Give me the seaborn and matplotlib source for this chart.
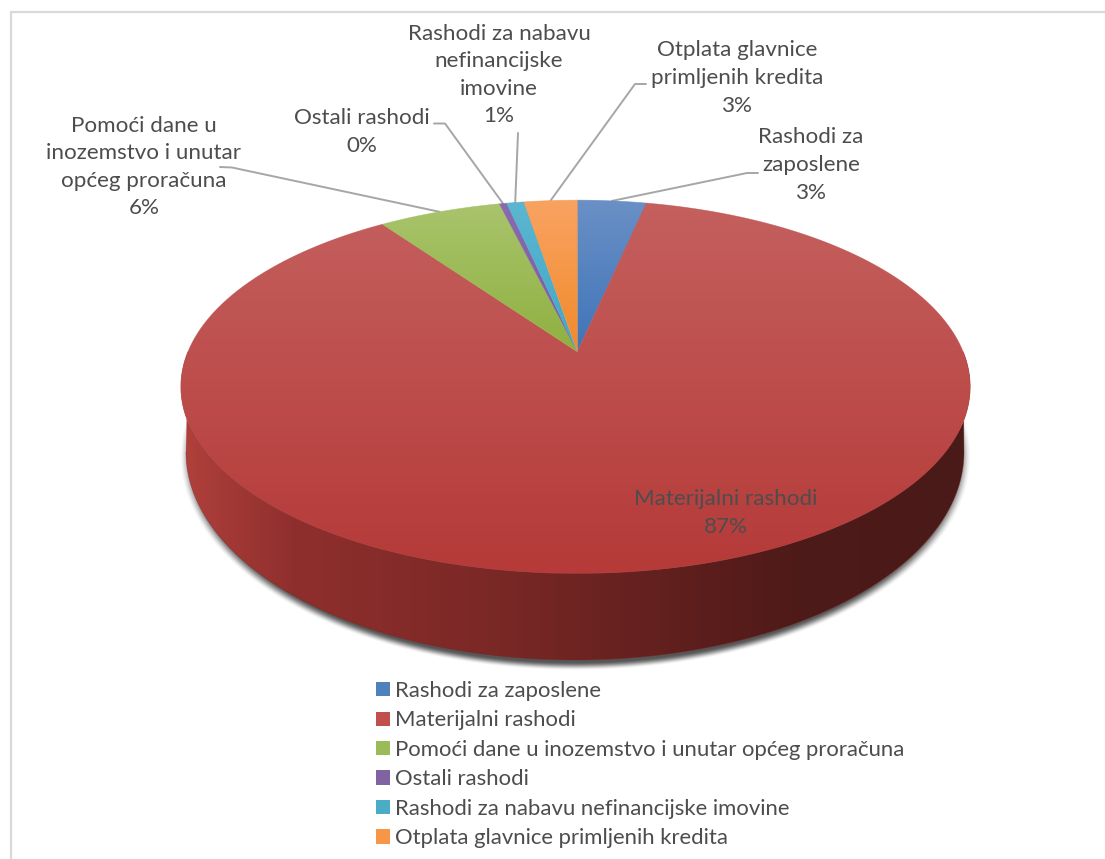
import numpy as np
import matplotlib
matplotlib.use("Agg")
import matplotlib.pyplot as plt
import seaborn as sns
from matplotlib.colors import LinearSegmentedColormap, to_rgb
from matplotlib.patches import Patch, Polygon

# Values
categories = ['Rashodi za zaposlene', 'Materijalni rashodi',
              'Pomoći dane u inozemstvo i unutar općeg proračuna', 'Ostali rashodi',
              'Rashodi za nabavu nefinancijske imovine', 'Otplata glavnice primljenih kredita']
values = [3.4, 86.8, 6.0, 0.35, 0.85, 2.6]
label_lines = ['Rashodi za\nzaposlene', 'Materijalni rashodi',
               'Pomoći dane u\ninozemstvo i unutar\nopćeg proračuna', 'Ostali rashodi',
               'Rashodi za nabavu\nnefinancijske\nimovine', 'Otplata glavnice\nprimljenih kredita']

# Layout in pixels of the 1105x859 picture
label_pos = [(811, 165), (726, 513), (144, 167), (362, 132), (499, 75), (737, 78)]
leader_elbows = [[(758, 173), (747, 173)], None, [(220, 167), (232, 167.5)],
                 [(434, 123.5), (445, 123.5)], [(518, 133)], [(646, 84), (635, 84)]]

top_colors = ['#6A90C6', '#C4605E', '#A9C46C', '#8A6BB0', '#5CB6D0', '#F9A362']
low_colors = ['#3F74B8', '#B53A38', '#8FB040', '#7A5A9E', '#3FA8C8', '#F08A2A']
legend_colors = ['#4F81BD', '#C0504D', '#9BBB59', '#8064A2', '#4BACC6', '#F79646']

sns.set_theme(style='white')
plt.rcParams['font.family'] = ['Lato', 'DejaVu Sans']
text_color = '#4D4D4D'
line_color = '#A6A6A6'

fig = plt.figure(figsize=(11.05, 8.59), dpi=100)
ax = fig.add_axes([0, 0, 1, 1])

wedges, _ = ax.pie(values, startangle=90, counterclock=False)
angles = [(w.theta1, w.theta2) for w in wedges]
for w in wedges:
    w.remove()

# Perspective tilt of the pie disc
apex_x, apex_y = 577.3, 351.7
sx_left, sx_right, sy, tilt = 389.3, 385.8, 180.0, 0.188


def project(theta_deg):
    t = np.radians(theta_deg)
    x, y = np.cos(t), np.sin(t)
    w = 1 + tilt * y
    return apex_x + np.where(x < 0, sx_left, sx_right) * x / w, apex_y - sy * y / w


def gradient_fill(poly_xy, cmap, horizontal=False, zorder=2):
    poly = Polygon(poly_xy, closed=True, fc='none', ec='none', transform=ax.transData)
    ax.add_patch(poly)
    extent = (poly_xy[:, 0].min(), poly_xy[:, 0].max(), poly_xy[:, 1].max(), poly_xy[:, 1].min())
    ramp = np.linspace(0, 1, 256)
    ramp = ramp[None, :] if horizontal else ramp[:, None]
    im = ax.imshow(ramp, cmap=cmap, extent=extent, origin='upper', aspect='auto',
                   vmin=0, vmax=1, zorder=zorder, interpolation='bilinear')
    im.set_clip_path(poly)


# Soft shadow under the disc
yy, xx = np.mgrid[400:700, 150:1000]
dist = np.sqrt(((xx - 575) / 396.0) ** 2 + ((yy - 456) / 214.0) ** 2)
fade = np.clip((1.0 - dist) / 0.04, 0, 1)
shadow = np.zeros(dist.shape + (4,))
shadow[..., :3] = 0.22
shadow[..., 3] = 0.85 * fade * fade * (3 - 2 * fade)
ax.imshow(shadow, extent=(150, 1000, 700, 400), origin='upper', aspect='auto', zorder=1)

# Side wall, only the front part of the big red slice shows
rim_t = np.radians(np.linspace(180, 360, 300))
rim_x, rim_y = project(np.degrees(rim_t))
low_x = 575 + 389 * np.cos(rim_t)
low_y = 452 - 208 * np.sin(rim_t)
side_xy = np.column_stack([np.r_[rim_x, low_x[::-1]], np.r_[rim_y, low_y[::-1]]])
side_cmap = LinearSegmentedColormap.from_list('side', [
    (0.0, '#B0403C'), (0.14, '#8F2F2D'), (0.40, '#7A2826'),
    (0.66, '#5C1E1C'), (0.79, '#4D1A18'), (1.0, '#4A1A18')])
gradient_fill(side_xy, side_cmap, horizontal=True, zorder=2)
ax.plot(side_xy[:, 0], side_xy[:, 1], color='#7A2826', lw=0.5, alpha=0.5, zorder=2.1)

# Top face slices
for i, (t1, t2) in enumerate(angles):
    arc = np.linspace(t1, t2, max(int(t2 - t1) * 2, 12))
    arc_x, arc_y = project(arc)
    xy = np.column_stack([np.r_[apex_x, arc_x], np.r_[apex_y, arc_y]])
    cmap = LinearSegmentedColormap.from_list(f'slice{i}', [top_colors[i], low_colors[i]])
    gradient_fill(xy, cmap, zorder=3 + i * 0.1)
    mid = tuple((np.array(to_rgb(top_colors[i])) + np.array(to_rgb(low_colors[i]))) / 2)
    ax.add_patch(Polygon(xy, closed=True, fc='none', ec=mid, lw=0.5, alpha=0.6, zorder=3.05 + i * 0.1))

# Labels and leader lines
pct = [f'{round(v / sum(values) * 100):d}%' for v in values]
for i, name in enumerate(label_lines):
    ax.text(label_pos[i][0], label_pos[i][1], f'{name}\n{pct[i]}', ha='center', va='center',
            fontsize=16.1, color=text_color, linespacing=1.47, zorder=6)
    if leader_elbows[i] is not None:
        end = project(sum(angles[i]) / 2)
        pts = leader_elbows[i] + [(float(end[0]), float(end[1]))]
        ax.plot([p[0] for p in pts], [p[1] for p in pts], color=line_color, lw=1.4, zorder=2.5)

# Legend
handles = [Patch(facecolor=c, edgecolor='none') for c in legend_colors]
ax.legend(handles, categories, loc='upper left', bbox_to_anchor=(376, 681), bbox_transform=ax.transData,
          frameon=False, fontsize=15.9, labelcolor=text_color, borderpad=0, borderaxespad=0,
          handlelength=0.63, handleheight=0.63, handletextpad=0.22, labelspacing=0.43)

# Chart area border
ax.plot([11, 11], [859, 12], color='#D9D9D9', lw=1.6, zorder=0)
ax.plot([11, 1105], [12, 12], color='#D9D9D9', lw=1.6, zorder=0)

ax.set_aspect('auto')
ax.set_xlim(0, 1105)
ax.set_ylim(859, 0)
ax.axis('off')
fig.savefig('out.png', dpi=100, facecolor='white')
